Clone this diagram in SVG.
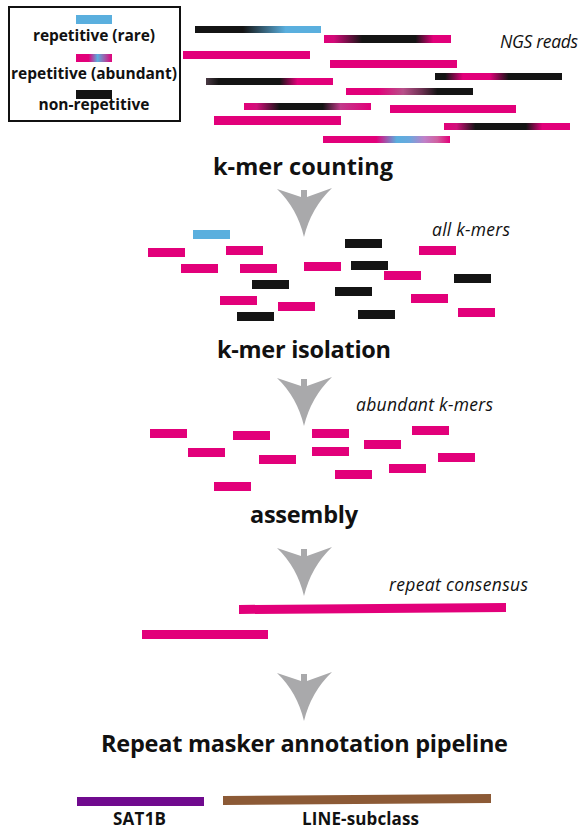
<svg xmlns="http://www.w3.org/2000/svg" width="583" height="830" viewBox="0 0 583 830">
  <style>
    .bg { fill: #ffffff; }
    .m { fill: #e2007a; }
    .k { fill: #141414; }
    .b { fill: #5aafde; }
    .step { font-family: "Open Sans", "Noto Sans", "Liberation Sans", sans-serif; font-weight: bold; font-size: 23.5px; fill: #111; text-anchor: middle; }
    .leg { font-family: "Open Sans", "Noto Sans", "Liberation Sans", sans-serif; font-weight: bold; font-size: 15.5px; fill: #111; text-anchor: middle; }
    .note { font-family: "Open Sans", "Noto Sans", "Liberation Sans", sans-serif; font-style: italic; font-size: 17.5px; fill: #111; }
    .lbl { font-family: "Open Sans", "Noto Sans", "Liberation Sans", sans-serif; font-weight: bold; font-size: 17px; fill: #111; text-anchor: middle; }
    .arrow { fill: #a9a9ab; }
  </style>
  <defs>
    <!-- arrowhead pointing down, wing tips at y=0, tip at y=48 -->
    <path id="down" d="M -27,0 L -3,8 L -3,1 L 3,1 L 3,8 L 28,-1 Q 7,19 0,48 Q -7,19 -27,0 Z"/>
    <linearGradient id="gLeg">
      <stop offset="0" stop-color="#e2007a"/>
      <stop offset="0.35" stop-color="#e2007a"/>
      <stop offset="0.6" stop-color="#5aafde"/>
      <stop offset="0.8" stop-color="#a05aa8"/>
      <stop offset="1" stop-color="#e2007a"/>
    </linearGradient>
    <linearGradient id="g1">
      <stop offset="0" stop-color="#141414"/>
      <stop offset="0.38" stop-color="#141414"/>
      <stop offset="0.72" stop-color="#5aafde"/>
      <stop offset="1" stop-color="#5aafde"/>
    </linearGradient>
    <linearGradient id="g2">
      <stop offset="0" stop-color="#e2007a"/>
      <stop offset="0.08" stop-color="#d00a78"/>
      <stop offset="0.3" stop-color="#141414"/>
      <stop offset="0.72" stop-color="#141414"/>
      <stop offset="0.86" stop-color="#e2007a"/>
      <stop offset="1" stop-color="#e2007a"/>
    </linearGradient>
    <linearGradient id="g5">
      <stop offset="0" stop-color="#141414"/>
      <stop offset="0.08" stop-color="#141414"/>
      <stop offset="0.22" stop-color="#e2007a"/>
      <stop offset="0.43" stop-color="#e2007a"/>
      <stop offset="0.58" stop-color="#141414"/>
      <stop offset="1" stop-color="#141414"/>
    </linearGradient>
    <linearGradient id="g6">
      <stop offset="0" stop-color="#4a3a44"/>
      <stop offset="0.1" stop-color="#141414"/>
      <stop offset="0.58" stop-color="#141414"/>
      <stop offset="0.72" stop-color="#e2007a"/>
      <stop offset="1" stop-color="#e2007a"/>
    </linearGradient>
    <linearGradient id="g7">
      <stop offset="0" stop-color="#e2007a"/>
      <stop offset="0.25" stop-color="#e2007a"/>
      <stop offset="0.45" stop-color="#b8508a"/>
      <stop offset="0.6" stop-color="#6a3050"/>
      <stop offset="0.72" stop-color="#141414"/>
      <stop offset="1" stop-color="#141414"/>
    </linearGradient>
    <linearGradient id="g8">
      <stop offset="0" stop-color="#e2007a"/>
      <stop offset="0.1" stop-color="#d0107a"/>
      <stop offset="0.28" stop-color="#141414"/>
      <stop offset="0.62" stop-color="#141414"/>
      <stop offset="0.76" stop-color="#c03a8a"/>
      <stop offset="1" stop-color="#e2007a"/>
    </linearGradient>
    <linearGradient id="g11">
      <stop offset="0" stop-color="#e2007a"/>
      <stop offset="0.1" stop-color="#d0107a"/>
      <stop offset="0.25" stop-color="#141414"/>
      <stop offset="0.65" stop-color="#141414"/>
      <stop offset="0.78" stop-color="#e2007a"/>
      <stop offset="1" stop-color="#e2007a"/>
    </linearGradient>
    <linearGradient id="g12">
      <stop offset="0" stop-color="#e2007a"/>
      <stop offset="0.42" stop-color="#e2007a"/>
      <stop offset="0.58" stop-color="#5aafde"/>
      <stop offset="0.68" stop-color="#6aa8de"/>
      <stop offset="0.8" stop-color="#c080c8"/>
      <stop offset="0.9" stop-color="#d060a0"/>
      <stop offset="1" stop-color="#e2007a"/>
    </linearGradient>
  </defs>

  <rect class="bg" x="0" y="0" width="583" height="830"/>

  <!-- legend -->
  <g id="legend">
    <rect x="9" y="7" width="171" height="114" fill="none" stroke="#111" stroke-width="2"/>
    <rect class="b" x="76" y="15" width="36" height="9"/>
    <text class="leg" x="94" y="41" textLength="122">repetitive (rare)</text>
    <rect x="76" y="54" width="36" height="8" fill="url(#gLeg)"/>
    <text class="leg" x="94" y="79" textLength="166">repetitive (abundant)</text>
    <rect class="k" x="76" y="90" width="36" height="9"/>
    <text class="leg" x="94" y="110" textLength="111">non-repetitive</text>
  </g>

  <!-- sequencing reads -->
  <g id="reads">
    <rect x="195" y="26" width="126" height="7" fill="url(#g1)"/>
    <rect x="324" y="35" width="127" height="8" fill="url(#g2)"/>
    <rect class="m" x="183" y="51" width="127" height="8"/>
    <rect class="m" x="330" y="60" width="127" height="8"/>
    <rect x="435" y="73" width="127" height="7" fill="url(#g5)"/>
    <rect x="206" y="78" width="127" height="7" fill="url(#g6)"/>
    <rect x="346" y="88" width="127" height="7" fill="url(#g7)"/>
    <rect x="244" y="103" width="127" height="7" fill="url(#g8)"/>
    <rect class="m" x="390" y="105" width="126" height="8"/>
    <rect class="m" x="214" y="116" width="127" height="9"/>
    <rect x="444" y="123" width="126" height="7" fill="url(#g11)"/>
    <rect x="323" y="136" width="127" height="7" fill="url(#g12)"/>
    <text class="note" x="500" y="48" textLength="78">NGS reads</text>
  </g>

  <g id="step-counting">
    <text class="step" x="303" y="175" textLength="180">k-mer counting</text>
  </g>

  <!-- all k-mers -->
  <g id="all-kmers">
    <rect class="b" x="193" y="230" width="37" height="9"/>
    <rect class="m" x="148" y="248" width="37" height="9"/>
    <rect class="m" x="226" y="246" width="37" height="9"/>
    <rect class="m" x="181" y="264" width="37" height="9"/>
    <rect class="m" x="240" y="264" width="37" height="9"/>
    <rect class="k" x="252" y="280" width="37" height="9"/>
    <rect class="m" x="304" y="262" width="37" height="9"/>
    <rect class="k" x="345" y="239" width="37" height="9"/>
    <rect class="k" x="351" y="261" width="37" height="9"/>
    <rect class="m" x="384" y="271" width="37" height="9"/>
    <rect class="m" x="419" y="246" width="37" height="9"/>
    <rect class="k" x="454" y="274" width="37" height="9"/>
    <rect class="k" x="335" y="287" width="37" height="9"/>
    <rect class="m" x="220" y="296" width="37" height="9"/>
    <rect class="m" x="278" y="302" width="37" height="9"/>
    <rect class="k" x="237" y="312" width="37" height="9"/>
    <rect class="k" x="358" y="310" width="37" height="9"/>
    <rect class="m" x="411" y="294" width="37" height="9"/>
    <rect class="m" x="458" y="308" width="37" height="9"/>
    <text class="note" x="432" y="236" textLength="78">all k-mers</text>
  </g>

  <g id="step-isolation">
    <text class="step" x="304" y="358" textLength="174">k-mer isolation</text>
  </g>

  <!-- abundant k-mers -->
  <g id="abundant-kmers">
    <rect class="m" x="150" y="429" width="37" height="9"/>
    <rect class="m" x="233" y="431" width="37" height="9"/>
    <rect class="m" x="312" y="429" width="37" height="9"/>
    <rect class="m" x="412" y="426" width="37" height="9"/>
    <rect class="m" x="364" y="440" width="37" height="9"/>
    <rect class="m" x="188" y="448" width="37" height="9"/>
    <rect class="m" x="312" y="447" width="37" height="9"/>
    <rect class="m" x="259" y="455" width="37" height="9"/>
    <rect class="m" x="438" y="453" width="37" height="9"/>
    <rect class="m" x="389" y="464" width="37" height="9"/>
    <rect class="m" x="335" y="470" width="37" height="9"/>
    <rect class="m" x="214" y="482" width="37" height="9"/>
    <text class="note" x="356" y="411" textLength="137">abundant k-mers</text>
  </g>

  <g id="step-assembly">
    <text class="step" x="304" y="523" textLength="108">assembly</text>
  </g>

  <!-- assembled consensus -->
  <g id="consensus">
    <path class="m" d="M 239,605 L 506,603 L 506,612 L 239,614 Z"/>
    <rect class="m" x="142" y="630" width="126" height="9"/>
    <text class="note" x="389" y="591" textLength="139">repeat consensus</text>
  </g>

  <g id="step-annotation">
    <text class="step" x="304.5" y="752" textLength="407">Repeat masker annotation pipeline</text>
  </g>

  <!-- annotation result -->
  <g id="annotation">
    <rect x="77" y="797" width="127" height="9" fill="#700a8e"/>
    <path d="M 223,796 L 491,794 L 491,803 L 223,805 Z" fill="#8c5a36"/>
    <text class="lbl" x="139.5" y="825" textLength="53">SAT1B</text>
    <text class="lbl" x="360.5" y="825" textLength="117">LINE-subclass</text>
  </g>

  <!-- flow arrows between steps -->
  <g id="connectors" class="arrow">
    <use href="#down" transform="translate(304,189)"/>
    <use href="#down" transform="translate(304,378)"/>
    <use href="#down" transform="translate(304,548)"/>
    <use href="#down" transform="translate(304,673)"/>
  </g>
</svg>
